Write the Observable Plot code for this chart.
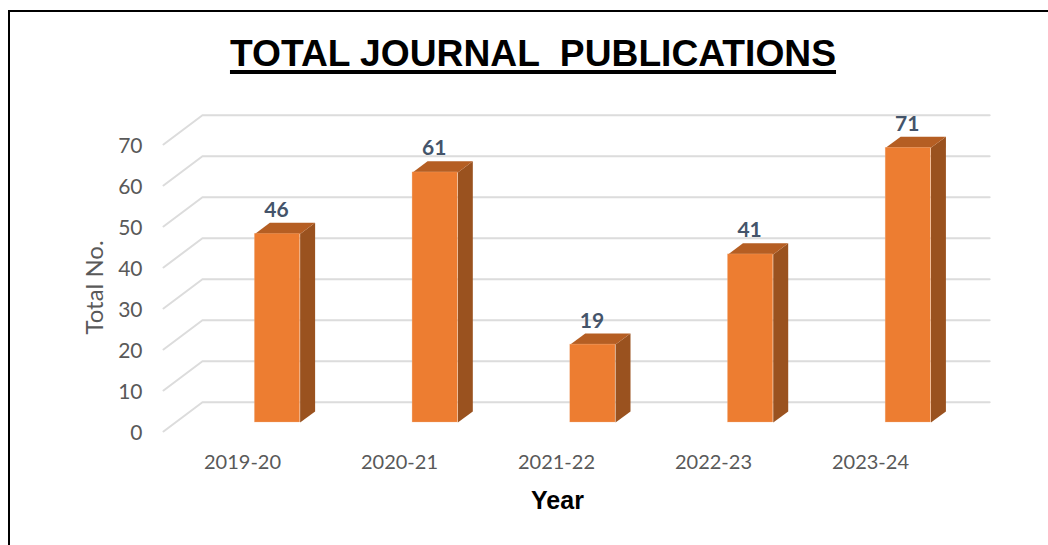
<!DOCTYPE html>
<html>
<head>
<meta charset="utf-8">
<script src="https://cdn.jsdelivr.net/npm/d3@7"></script>
<script src="https://cdn.jsdelivr.net/npm/@observablehq/plot@0.6"></script>
<style>
  html, body { margin: 0; padding: 0; background: #fff; }
  #page { position: relative; width: 1048px; height: 545px; overflow: hidden; }
  #edgeTop { position: absolute; left: 8px; top: 10px; right: 0; height: 2px; background: #000; }
  #edgeLeft { position: absolute; left: 8px; top: 10px; bottom: 0; width: 2px; background: #000; }
  h1 { margin: 0; height: 90px; box-sizing: border-box; padding-top: 31px; text-align: center;
       font: bold 37.2px/44px "Liberation Sans", Arial, sans-serif; color: #000; white-space: pre;
       text-decoration: underline; text-decoration-thickness: 4px; text-underline-offset: 4px; padding-left: 18px; }
  svg { display: block; }
</style>
</head>
<body>
<div id="page">
  <div id="edgeTop"></div>
  <div id="edgeLeft"></div>
  <h1>TOTAL JOURNAL  PUBLICATIONS</h1>
  <div id="chart"></div>
</div>
<script>
const years = ["2019-20", "2020-21", "2021-22", "2022-23", "2023-24"];
const labels = [46, 61, 19, 41, 71];
const barHeights = [46, 61, 19, 41, 67];   // the last bar is drawn shorter than its label in the picture
const yTicks = [0, 10, 20, 30, 40, 50, 60, 70];

// oblique projection constants, in scale units
const barHalf = 0.1435;
const barDepthX = 0.095, barDepthY = 2.7;
const wallLeft = -0.476, wallRight = 4.516, wallY = 4.95;
const floorLeft = -0.723, floorY = -2.2;
const labelSpread = 0.9955;   // the axis labels sit slightly closer together than the bars

const gridPts = yTicks.flatMap(t => [
  {t, x: floorLeft, y: t + floorY},
  {t, x: wallLeft, y: t + wallY},
  {t, x: wallRight, y: t + wallY}
]);
const sidePts = barHeights.flatMap((h, i) => {
  const r = i + barHalf;
  return [
    {i, x: r, y: 0},
    {i, x: r + barDepthX, y: barDepthY},
    {i, x: r + barDepthX, y: h + barDepthY},
    {i, x: r, y: h}
  ];
});
const topPts = barHeights.flatMap((h, i) => {
  const l = i - barHalf, r = i + barHalf;
  return [
    {i, x: l, y: h},
    {i, x: r, y: h},
    {i, x: r + barDepthX, y: h + barDepthY},
    {i, x: l + barDepthX, y: h + barDepthY}
  ];
});
const bars = barHeights.map((h, i) => ({i, h, label: labels[i]}));

const font = "Lato, sans-serif";
const chart = Plot.plot({
  width: 1048,
  height: 455,
  marginLeft: 150,
  marginRight: 58,
  marginTop: 45,
  marginBottom: 123,
  style: {background: "transparent", overflow: "visible"},
  x: {domain: [0, 4], range: [277, 907.8]},
  y: {domain: [0, 70], range: [332, 45]},
  marks: [
    Plot.line(gridPts, {x: "x", y: "y", z: "t", stroke: "#dcdcdc", strokeWidth: 2}),
    Plot.axisY({
      ticks: yTicks, tickSize: 0, tickPadding: 8, dy: 10.5, label: null,
      fontSize: 21, fontFamily: font, fill: "#595959"
    }),
    Plot.axisX({
      ticks: years.map((_, i) => i * labelSpread),
      tickFormat: v => years[Math.round(v / labelSpread)],
      tickSize: 0, tickPadding: 32, dx: -35, label: null,
      fontSize: 20, fontFamily: font, fill: "#595959"
    }),
    Plot.text(["Total No."], {
      frameAnchor: "left", textAnchor: "middle", rotate: -90, dx: -55, dy: 8.5,
      fontSize: 24, fontFamily: font, fill: "#595959"
    }),
    Plot.text(["Year"], {
      frameAnchor: "bottom", dx: -13, dy: 86,
      fontSize: 25, fontFamily: "Liberation Sans, Arial, sans-serif", fontWeight: "bold", fill: "#000"
    }),
    Plot.line(sidePts, {x: "x", y: "y", z: "i", fill: "#9a521f", stroke: "none"}),
    Plot.line(topPts, {x: "x", y: "y", z: "i", fill: "#b55e23", stroke: "none"}),
    Plot.rect(bars, {
      x1: d => d.i - barHalf, x2: d => d.i + barHalf, y1: 0, y2: "h",
      fill: "#ed7d31", stroke: "#f4b78e", strokeWidth: 0.5, strokeOpacity: 0.6
    }),
    Plot.text(bars, {
      x: "i", y: d => d.h + barDepthY, text: "label", lineAnchor: "bottom", dx: -1, dy: -6,
      fontSize: 21, fontFamily: font, fontWeight: "bold", fill: "#44546a"
    })
  ]
});
document.getElementById("chart").append(chart);
</script>
</body>
</html>
